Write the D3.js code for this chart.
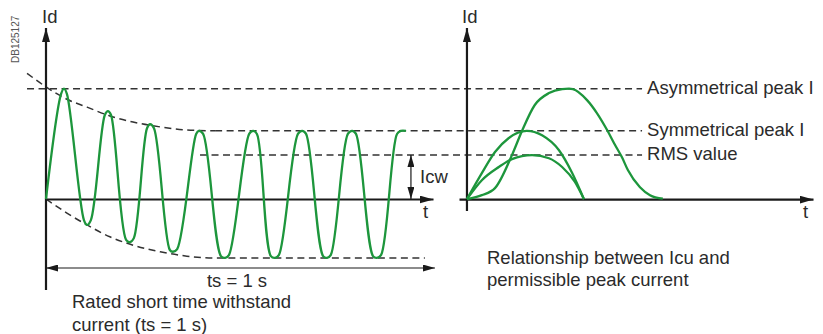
<!DOCTYPE html>
<html>
<head>
<meta charset="utf-8">
<script src="https://cdn.jsdelivr.net/npm/d3@7"></script>
<style>
  body { margin: 0; background: #fff; }
  text { font-family: 'Liberation Sans', Arial, sans-serif; fill: #2b2b2b; }
</style>
</head>
<body>
<div id="chart"></div>
<script>
// time in % of ts (left) / arbitrary % (right), current in units of Icw (RMS)
const wave = [
  [0, 0],
  [3.9, 2.39], [4.65, 2.51], [5.4, 2.39],
  [9.8, -0.48], [10.6, -0.59], [11.6, -0.48],
  [15.2, 1.91], [16.0, 2.0], [16.8, 1.91],
  [20.7, -0.93], [21.7, -0.98], [22.7, -0.89],
  [26.1, 1.61], [26.9, 1.70], [27.9, 1.61],
  [32.0, -1.16], [32.8, -1.20], [33.9, -1.14],
  [38.8, 1.48], [39.5, 1.55], [40.6, 1.48],
  [45.2, -1.30], [46.3, -1.34], [47.3, -1.27],
  [52.5, 1.48], [53.5, 1.55], [54.5, 1.48],
  [58.1, -1.30], [59.2, -1.34], [60.2, -1.27],
  [65.1, 1.48], [66.2, 1.55], [67.2, 1.48],
  [71.6, -1.30], [72.6, -1.34], [73.6, -1.27],
  [78.0, 1.48], [79.1, 1.55], [80.1, 1.48],
  [84.5, -1.30], [85.5, -1.34], [86.6, -1.27],
  [90.7, 1.48], [91.7, 1.55], [93.0, 1.55]
];
const upperEnvelope = [
  [-4.9, 2.86], [0, 2.55], [5.4, 2.27], [10.6, 2.09], [16.5, 1.89],
  [22.5, 1.75], [29.5, 1.64], [36.4, 1.57], [43.7, 1.55]
];
const lowerEnvelope = [
  [0, 0], [5.4, -0.32], [10.6, -0.59], [16.5, -0.86], [22.5, -1.05],
  [29.5, -1.20], [36.4, -1.30], [43.2, -1.34], [97.9, -1.34]
];
const asymCurve = [
  [0, 0], [4.3, 0.09], [8.1, 0.25], [13.0, 1.0], [15.9, 1.55], [19.6, 2.14],
  [23.7, 2.41], [27.5, 2.50], [29.5, 2.51], [30.6, 2.50], [34.7, 2.25],
  [37.6, 1.95], [40.5, 1.57], [42.8, 1.23], [44.8, 0.95], [46.5, 0.66],
  [50.0, 0.27], [52.9, 0.09], [56.6, 0.01]
];
const symCurve = [
  [0, 0], [4.3, 0.59], [8.1, 1.07], [12.1, 1.39], [17.3, 1.55], [21.7, 1.45],
  [26.6, 1.11], [30.3, 0.61], [33.8, 0]
];
const rmsCurve = [
  [0, 0], [4.3, 0.43], [9.2, 0.73], [13.0, 0.91], [18.8, 1.0], [23.7, 0.93],
  [27.5, 0.73], [31.2, 0.39], [33.8, 0]
];
const levelNames = ['Asymmetrical peak I', 'Symmetrical peak I', 'RMS value'];
const levelValues = [2.51, 1.55, 1.0];
const levelStart = [-4.9, 43.7, 39.8];   // left chart time where dashed line begins
const levelEnd = 50.6;                    // right chart time where dashed line ends
const icwTime = 94.3;
const tsLevel = -1.57;

const width = 823, height = 334;
const green = '#1d963c', ink = '#1a1a1a', dash = '#333';

const svg = d3.select('#chart').append('svg')
  .attr('width', width).attr('height', height);

const defs = svg.append('defs');
function marker(id, len, half) {
  defs.append('marker')
    .attr('id', id)
    .attr('markerUnits', 'userSpaceOnUse')
    .attr('viewBox', `0 ${-half} ${len} ${half * 2}`)
    .attr('refX', len).attr('refY', 0)
    .attr('markerWidth', len).attr('markerHeight', half * 2)
    .attr('orient', 'auto-start-reverse')
    .append('path')
    .attr('d', `M0,${-half}L${len},0L0,${half}Z`)
    .attr('fill', ink);
}
marker('axisArrow', 14, 4);
marker('smallArrow', 12, 3.5);

// scales
const xL = d3.scaleLinear().domain([0, 100]).range([46, 433]);
const yL = d3.scaleLinear().domain([-2.07, 3.89]).range([290, 28]);
const xR = d3.scaleLinear().domain([-2.3, 100]).range([459, 813]);
const yR = d3.scaleLinear().domain([-0.27, 3.89]).range([211, 28]);

// dashed reference levels across both charts
const dashed = svg.append('g')
  .attr('stroke', dash).attr('stroke-width', 1.5)
  .attr('stroke-dasharray', '7,4.5').attr('fill', 'none');
levelValues.forEach((v, i) => {
  dashed.append('line')
    .attr('x1', xL(levelStart[i])).attr('x2', xR(levelEnd))
    .attr('y1', yL(v)).attr('y2', yL(v));
  svg.append('text')
    .attr('x', xR(levelEnd) + 5).attr('y', yL(v) + 5)
    .attr('font-size', 18.5)
    .text(levelNames[i]);
});

const lineL = d3.line().x(d => xL(d[0])).y(d => yL(d[1]));
dashed.append('path').datum(upperEnvelope)
  .attr('d', lineL.curve(d3.curveMonotoneX));
dashed.append('path').datum(lowerEnvelope)
  .attr('d', lineL.curve(d3.curveMonotoneX));

// left axes
svg.append('g')
  .attr('transform', `translate(0,${yL(0)})`)
  .call(d3.axisBottom(xL).tickValues([]).tickSizeOuter(0))
  .call(g => g.select('.domain').attr('stroke', ink).attr('stroke-width', 2.2)
    .attr('marker-end', 'url(#axisArrow)'));
svg.append('g')
  .attr('transform', `translate(${xL(0)},0)`)
  .call(d3.axisLeft(yL).tickValues([]).tickSizeOuter(0))
  .call(g => g.select('.domain').attr('stroke', ink).attr('stroke-width', 2.2)
    .attr('d', `M0,${yL.range()[0]}V${yL.range()[1]}`)
    .attr('marker-end', 'url(#axisArrow)'));

// right axes
svg.append('g')
  .attr('transform', `translate(0,${yR(0)})`)
  .call(d3.axisBottom(xR).tickValues([]).tickSizeOuter(0))
  .call(g => g.select('.domain').attr('stroke', ink).attr('stroke-width', 2.2)
    .attr('marker-end', 'url(#axisArrow)'));
svg.append('g')
  .attr('transform', `translate(${xR(0)},0)`)
  .call(d3.axisLeft(yR).tickValues([]).tickSizeOuter(0))
  .call(g => g.select('.domain').attr('stroke', ink).attr('stroke-width', 2.2)
    .attr('d', `M0,${yR.range()[0]}V${yR.range()[1]}`)
    .attr('marker-end', 'url(#axisArrow)'));

// green curves
svg.append('path').datum(wave)
  .attr('fill', 'none').attr('stroke', green).attr('stroke-width', 2.3)
  .attr('stroke-linejoin', 'round')
  .attr('d', d3.line().x(d => xL(d[0])).y(d => yL(d[1])).curve(d3.curveCatmullRom.alpha(0.5)));

const lineR = d3.line().x(d => xR(d[0])).y(d => yR(d[1])).curve(d3.curveMonotoneX);
[asymCurve, symCurve, rmsCurve].forEach(c => {
  svg.append('path').datum(c)
    .attr('fill', 'none').attr('stroke', green).attr('stroke-width', 2.3)
    .attr('d', lineR);
});

// Icw double arrow
svg.append('line')
  .attr('x1', xL(icwTime)).attr('x2', xL(icwTime))
  .attr('y1', yL(0.5)).attr('y2', yL(1.0))
  .attr('stroke', ink).attr('stroke-width', 1.2)
  .attr('marker-end', 'url(#smallArrow)');
svg.append('line')
  .attr('x1', xL(icwTime)).attr('x2', xL(icwTime))
  .attr('y1', yL(0.5)).attr('y2', yL(0))
  .attr('stroke', ink).attr('stroke-width', 1.2)
  .attr('marker-end', 'url(#smallArrow)');

// ts double arrow
svg.append('line')
  .attr('x1', xL(0)).attr('x2', xL(100.5))
  .attr('y1', yL(tsLevel)).attr('y2', yL(tsLevel))
  .attr('stroke', ink).attr('stroke-width', 1.2)
  .attr('marker-start', 'url(#smallArrow)')
  .attr('marker-end', 'url(#smallArrow)');

// texts
const labels = [
  { t: 'Id', x: 42, y: 23 },
  { t: 'Id', x: 462, y: 23 },
  { t: 't', x: 423, y: 218 },
  { t: 't', x: 803, y: 218 },
  { t: 'Icw', x: 420, y: 183 },
  { t: 'ts = 1 s', x: 237, y: 287, anchor: 'middle' },
  { t: 'Rated short time withstand', x: 72, y: 308 },
  { t: 'current (ts = 1 s)', x: 72, y: 331 },
  { t: 'Relationship between Icu and', x: 487, y: 264 },
  { t: 'permissible peak current', x: 487, y: 286 }
];
svg.selectAll('text.lbl').data(labels).enter().append('text')
  .attr('class', 'lbl')
  .attr('x', d => d.x).attr('y', d => d.y)
  .attr('text-anchor', d => d.anchor || 'start')
  .attr('font-size', 18.5)
  .text(d => d.t);

svg.append('text')
  .attr('transform', 'translate(19,63) rotate(-90)')
  .attr('font-size', 10)
  .style('fill', '#555')
  .text('DB125127');
</script>
</body>
</html>
